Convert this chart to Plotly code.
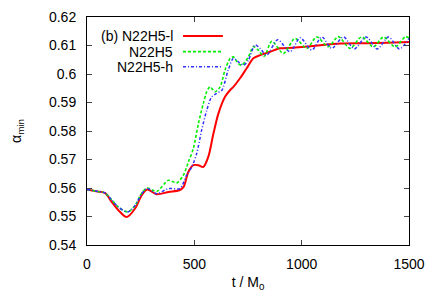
import plotly.graph_objects as go

# ---- data ----
t_low = [0, 50, 85, 115, 146, 185, 224, 255, 280, 325, 380, 430, 450, 472, 495, 519, 542, 565,
         589, 612, 643, 666, 682, 713, 744, 775, 806, 853, 899, 961, 1050, 1180, 1300, 1400, 1500]
a_low = [0.5595, 0.5588, 0.5582, 0.5551, 0.5522, 0.5498, 0.5528, 0.5575, 0.5595, 0.5578, 0.5586,
         0.5592, 0.5604, 0.5656, 0.5680, 0.5680, 0.5674, 0.5709, 0.5791, 0.5861, 0.5920, 0.5943,
         0.5955, 0.5985, 0.6020, 0.6055, 0.6066, 0.6078, 0.6090, 0.6092, 0.6098, 0.6107, 0.6108,
         0.6110, 0.6112]

t_mid = [0, 50, 85, 115, 146, 190, 224, 255, 280, 325, 379, 418, 449, 472, 495, 519, 542, 558,
         573, 597, 620, 643, 667, 682, 705, 721, 752, 775, 798, 825, 861, 915, 969, 1024, 1070,
         1124, 1171, 1225, 1280, 1334, 1381, 1435, 1482, 1500]
a_mid = [0.5595, 0.5588, 0.5582, 0.5558, 0.5533, 0.5516, 0.5539, 0.5582, 0.5600, 0.5588, 0.5627,
         0.5618, 0.5645, 0.5691, 0.5738, 0.5826, 0.5897, 0.5938, 0.5955, 0.5938, 0.5955, 0.6014,
         0.6055, 0.6060, 0.6037, 0.6031, 0.6060, 0.6096, 0.6084, 0.6062, 0.6115, 0.6072, 0.6125,
         0.6090, 0.6130, 0.6096, 0.6131, 0.6090, 0.6130, 0.6095, 0.6130, 0.6095, 0.6130, 0.6127]

t_high = [0, 50, 85, 115, 146, 190, 224, 255, 280, 325, 379, 433, 464, 488, 511, 534, 558, 581,
          604, 628, 658, 682, 705, 729, 752, 783, 806, 837, 888, 946, 993, 1047, 1094, 1140, 1195,
          1245, 1300, 1352, 1405, 1455, 1500]
a_high = [0.5595, 0.5588, 0.5582, 0.5558, 0.5533, 0.5516, 0.5539, 0.5580, 0.5598, 0.5580, 0.5598,
          0.5598, 0.5645, 0.5674, 0.5721, 0.5803, 0.5873, 0.5920, 0.5932, 0.5943, 0.6014, 0.6055,
          0.6043, 0.6031, 0.6049, 0.6102, 0.6090, 0.6066, 0.6120, 0.6078, 0.6127, 0.6084, 0.6130,
          0.6090, 0.6130, 0.6088, 0.6130, 0.6088, 0.6130, 0.6088, 0.6125]

series_names = ["(b) N22H5-l", "N22H5", "N22H5-h"]
x_ticks = [0, 500, 1000, 1500]
y_ticks = [0.54, 0.55, 0.56, 0.57, 0.58, 0.59, 0.60, 0.61, 0.62]
y_tick_labels = ["0.54", "0.55", "0.56", "0.57", "0.58", "0.59", "0.6", "0.61", "0.62"]

colors = ["#ff0000", "#00ee00", "#3030ff"]
dashes = ["solid", "3px,2px", "3px,2px,1px,2px"]
widths = [2, 1.6, 1.5]

FONT = "Liberation Sans, Arial, Helvetica, sans-serif"

fig = go.Figure()
for t, a, c, d, w, n in zip([t_low, t_mid, t_high], [a_low, a_mid, a_high],
                            colors, dashes, widths, series_names):
    fig.add_trace(go.Scatter(x=t, y=a, mode="lines", name=n,
                             line=dict(color=c, dash=d, width=w, shape="spline", smoothing=0.8)))

# gnuplot-style key: text right-aligned, sample to the right
key_y = [0.9167, 0.848, 0.782]
for n, c, d, w, ky in zip(series_names, colors, dashes, widths, key_y):
    fig.add_annotation(xref="paper", yref="paper", x=0.267, y=ky, text=n, showarrow=False,
                       xanchor="right", yanchor="middle", xshift=2,
                       font=dict(size=14, color="black", family=FONT))
    fig.add_shape(type="line", xref="paper", yref="paper", x0=0.298, x1=0.422, y0=ky, y1=ky,
                  line=dict(color=c, dash=d, width=w))

# the page body adds an 8px margin, so the figure is sized to fit the window
fig.update_layout(
    width=428, height=297,
    margin=dict(l=79, r=27, t=9, b=60),
    paper_bgcolor="white", plot_bgcolor="white",
    showlegend=False,
    font=dict(family=FONT, size=14, color="black"),
    xaxis=dict(range=[0, 1500], tickvals=x_ticks, ticks="inside", ticklen=5, tickcolor="#444",
               showline=True, linecolor="black", linewidth=1, mirror="allticks",
               showgrid=False, zeroline=False, ticklabelstandoff=6, automargin=False,
               title=dict(text="t / M<sub>0</sub>", standoff=6, font=dict(size=14))),
    yaxis=dict(range=[0.54, 0.62], tickvals=y_ticks, ticktext=y_tick_labels, ticks="inside",
               ticklen=5, tickcolor="#444",
               showline=True, linecolor="black", linewidth=1, mirror="allticks",
               showgrid=False, zeroline=False, ticklabelstandoff=7, automargin=False,
               title=dict(text="α<sub>min</sub>", standoff=26, font=dict(size=14))),
)

fig.write_html("out.html")
